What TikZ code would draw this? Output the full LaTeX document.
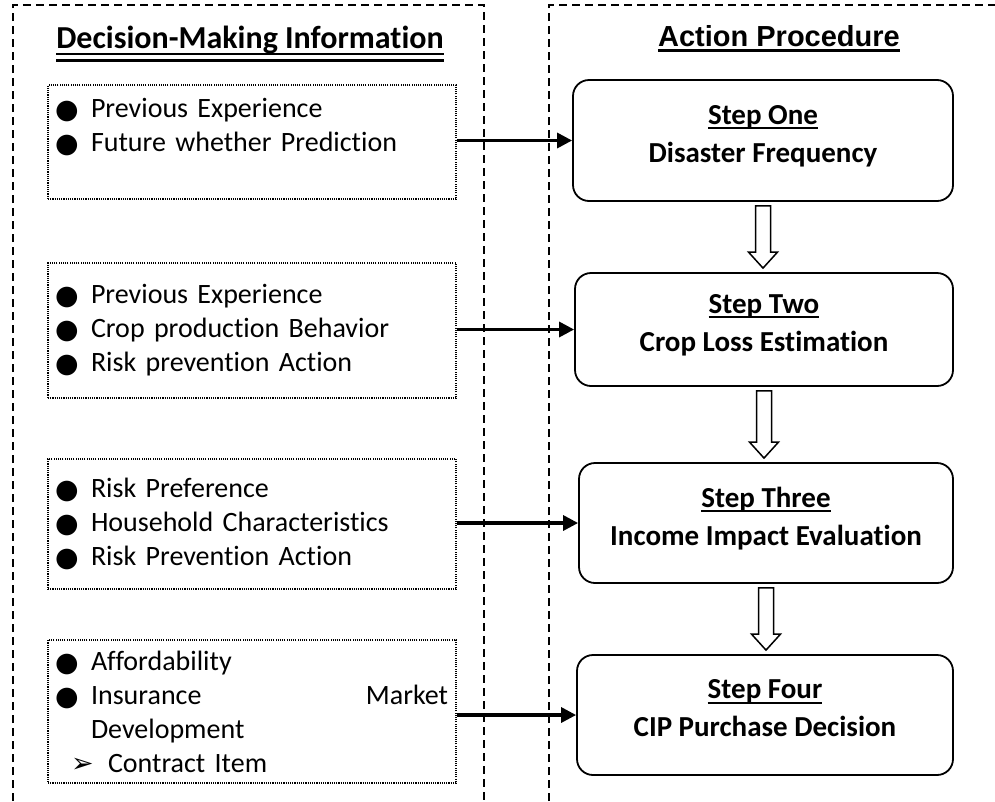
\documentclass[tikz,border=0pt]{standalone}
\usepackage{fontspec}
\setmainfont{Carlito}[Ligatures=NoCommon]
\newfontfamily\arialfont{Liberation Sans}
\newfontfamily\symfont{DejaVu Sans}
\usetikzlibrary{arrows.meta,calc}
\setlength\parindent{0pt}
\newcommand\myul[1]{\leavevmode\setbox0\hbox{#1}\rlap{\vrule width\wd0 height -3pt depth 5pt}\box0}
\newcommand\bul{\makebox[35pt][l]{\hspace{-1pt}\raisebox{-1pt}{\symfont\fontsize{27}{27}\selectfont ●}}}
\newcommand\subarr{\makebox[52pt][l]{\hspace{15pt}{\symfont\fontsize{27}{27}\selectfont ➢}}}
\newcommand\hollowarrow[2]{%
  \draw[hollow] let \p1=(#1.south), \p2=(#2.north) in
  (\x1-7.5pt,\y1-4pt) -- (\x1-7.5pt,\y2+20pt) -- (\x1-14.5pt,\y2+20pt) --
  (\x1,\y2+4pt) -- (\x1+14.5pt,\y2+20pt) -- (\x1+7.5pt,\y2+20pt) --
  (\x1+7.5pt,\y1-4pt) -- cycle;}
\begin{document}
\begin{tikzpicture}[x=1pt,y=-1pt,
  frame/.style={line width=1.5pt, dash pattern=on 8pt off 5pt},
  infobox/.style={draw, line width=1.1pt, dash pattern=on 1.1pt off 1.1pt,
    text width=392pt, inner xsep=8pt, inner ysep=0pt, align=left,
    font=\fontsize{28}{34}\selectfont},
  stepbox/.style={draw, line width=1.8pt, rounded corners=16pt, align=center,
    font=\bfseries\fontsize{29}{38}\selectfont},
  link/.style={line width=3.2pt, -{Triangle[length=15pt,width=15pt]}},
  hollow/.style={draw, line width=1.5pt, fill=white, line join=miter}]
\useasboundingbox (0,0) rectangle (995,801);
% frames
\draw[frame] (13,801) -- (13,5) -- (484,5) -- (484,801);
\draw[frame] (549,801) -- (549,5) -- (995,5);
% headings
\node[anchor=base, inner sep=0pt, font=\bfseries\fontsize{32}{38}\selectfont] (h1) at (250,48) {Decision-Making Information};
\draw[line width=2pt] ($(h1.base west)+(0,5.5)$) -- ($(h1.base east)+(0,5.5)$);
\draw[line width=2.5pt] ($(h1.base west)+(0,12.5)$) -- ($(h1.base east)+(0,12.5)$);
\node[anchor=base, inner sep=0pt, font=\arialfont\bfseries\fontsize{29}{34}\selectfont] (h2) at (779,46) {Action Procedure};
\draw[line width=3pt] ($(h2.base west)+(0,4)$) -- ($(h2.base east)+(0,4)$);
% info boxes
\node[infobox, minimum height=114pt] (i1) at (252,142)
  {\bul Previous Experience\\ \bul Future whether Prediction\\ \mbox{}};
\node[infobox, minimum height=135pt] (i2) at (252,330.5)
  {\bul Previous Experience\\ \bul Crop production Behavior\\ \bul Risk prevention Action};
\node[infobox, minimum height=130pt] (i3) at (252,524)
  {\bul Risk Preference\\ \bul Household Characteristics\\ \bul Risk Prevention Action};
\node[infobox, minimum height=143pt] (i4) at (252,711.5)
  {\bul Affordability\\ \bul Insurance\hfill Market\\ \hspace*{35pt}Development\\ \subarr Contract Item};
% step boxes
\node[stepbox, minimum width=380pt, minimum height=121pt] (s1) at (763,140.5)
  {\myul{Step One}\\Disaster Frequency\rule[-14pt]{0pt}{0pt}};
\node[stepbox, minimum width=378pt, minimum height=113pt] (s2) at (764,329.5)
  {\myul{Step Two}\\Crop Loss Estimation\rule[-14pt]{0pt}{0pt}};
\node[stepbox, minimum width=374pt, minimum height=120pt] (s3) at (766,523)
  {\myul{Step Three}\\Income Impact Evaluation\rule[-14pt]{0pt}{0pt}};
\node[stepbox, minimum width=376pt, minimum height=120pt] (s4) at (765,715)
  {\myul{Step Four}\\CIP Purchase Decision\rule[-14pt]{0pt}{0pt}};
% connectors
\draw[link] (s1.west -| i1.east) -- (s1.west);
\draw[link] (s2.west -| i2.east) -- (s2.west);
\draw[link] (s3.west -| i3.east) -- (s3.west);
\draw[link] (s4.west -| i4.east) -- (s4.west);
\hollowarrow{s1}{s2}
\hollowarrow{s2}{s3}
\hollowarrow{s3}{s4}
\end{tikzpicture}
\end{document}
